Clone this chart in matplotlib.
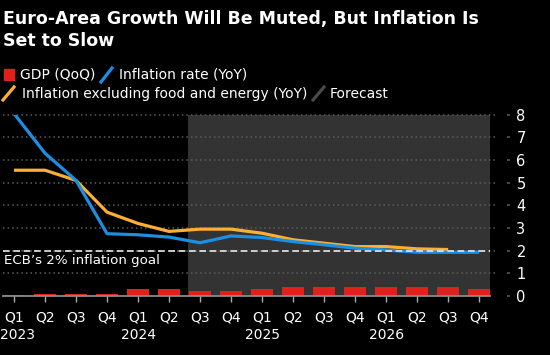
import numpy as np
import matplotlib
matplotlib.use("Agg")
import matplotlib.pyplot as plt
from matplotlib.lines import Line2D
from matplotlib.patches import Rectangle

# ---- data ----
quarters = ["Q1", "Q2", "Q3", "Q4"] * 4
years = ["2023", "2024", "2025", "2026"]
gdp = [0.05, 0.1, 0.1, 0.1, 0.3, 0.3, 0.2, 0.2, 0.3, 0.4, 0.4, 0.4, 0.4, 0.4, 0.4, 0.3]
inflation = [8.05, 6.3, 5.1, 2.75, 2.7, 2.6, 2.35, 2.65, 2.58, 2.4, 2.26, 2.11, 2.03, 1.93, 1.93, 1.93]
core = [5.55, 5.55, 5.1, 3.7, 3.2, 2.85, 2.95, 2.95, 2.77, 2.48, 2.33, 2.18, 2.18, 2.08, 2.05, np.nan]
forecast_start = 5.62
ecb_goal = 2
yticks = [0, 1, 2, 3, 4, 5, 6, 7, 8]

BG = "#000000"
RED = "#e0201b"
BLUE = "#1a8fe3"
YELLOW = "#fbb033"
SHADE = "#333333"
GRID = "#5c5c5c"

W, H = 550, 355
fig = plt.figure(figsize=(W / 100, H / 100), dpi=100, facecolor=BG)

def fx(x):
    return x / W

def fy(y):
    return 1 - y / H

ax = fig.add_axes([fx(3), fy(296), fx(490) - fx(3), fy(114.7) - fy(296)])
ax.set_facecolor(BG)
x = np.arange(len(quarters))
ax.set_xlim(-0.355, 15.35)
ax.set_ylim(0, 8)

ax.axvspan(forecast_start, 15.35, color=SHADE, zorder=0, lw=0)

# gridlines extending beyond axes
ax.hlines([v for v in yticks if v > 0], 0, 1.0144, transform=ax.get_yaxis_transform(),
          colors=GRID, linestyles=(0, (1, 2)), lw=1.1, clip_on=False, zorder=1)
ax.hlines(yticks, 1.035, 1.042, transform=ax.get_yaxis_transform(),
          colors=GRID, lw=1.1, clip_on=False, zorder=1)

ax.bar(x, gdp, width=0.7, color=RED, zorder=2)
ax.plot(x, core, color=YELLOW, lw=2.3, zorder=3, solid_capstyle="butt")
ax.plot(x, inflation, color=BLUE, lw=2.3, zorder=4, solid_capstyle="butt")
ax.axhline(ecb_goal, color="#e8e8e8", lw=1.2, ls=(0, (4, 2.2)), zorder=5)
ax.text(0.003, 1.55, "ECB\u2019s 2% inflation goal", transform=ax.get_yaxis_transform(),
        color="white", fontsize=9.6, ha="left", va="center", zorder=6)

for s in ["top", "left", "right"]:
    ax.spines[s].set_visible(False)
ax.spines["bottom"].set_color("#8a8a8a")
ax.spines["bottom"].set_linewidth(1.3)
ax.spines["bottom"].set_zorder(3)

ax.set_xticks(x)
ax.set_xticklabels(quarters, color="white", fontsize=10)
ax.tick_params(axis="x", length=4.5, width=1, color="#aaaaaa", pad=6)

# year labels below Q1 ticks
year_y = (296 - 335) / (296 - 114.7)
for i, yr in enumerate(years):
    xi = x[i * 4]
    if i == 0:
        ax.text(-0.006, year_y, yr, transform=ax.transAxes, color="white", fontsize=10,
                ha="left", va="center")
    else:
        ax.text(xi, year_y, yr, transform=ax.get_xaxis_transform(), color="white", fontsize=10,
                ha="center", va="center")

ax.yaxis.tick_right()
ax.set_yticks(yticks)
ax.set_yticklabels([str(v) for v in yticks], color="white", fontsize=10.5)
ax.tick_params(axis="y", length=0, pad=19)

# title
fig.text(fx(3), fy(10), "Euro-Area Growth Will Be Muted, But Inflation Is\nSet to Slow",
         color="white", fontsize=12.5, fontweight="bold", ha="left", va="top", linespacing=1.3)

# legend
fig.patches.append(Rectangle((fx(4), fy(80)), fx(10), fy(69) - fy(80), color=RED,
                             transform=fig.transFigure, figure=fig))
fig.text(fx(20), fy(75), "GDP (QoQ)", color="white", fontsize=10, ha="left", va="center")
fig.lines.append(Line2D([fx(101), fx(112)], [fy(82), fy(68)], color=BLUE, lw=2.3,
                        transform=fig.transFigure, figure=fig))
fig.text(fx(119), fy(75), "Inflation rate (YoY)", color="white", fontsize=10, ha="left", va="center")
fig.lines.append(Line2D([fx(3), fx(14)], [fy(100), fy(87)], color=YELLOW, lw=2.3,
                        transform=fig.transFigure, figure=fig))
fig.text(fx(22), fy(94), "Inflation excluding food and energy (YoY)", color="white", fontsize=10,
         ha="left", va="center")
fig.lines.append(Line2D([fx(313), fx(324)], [fy(100), fy(87)], color="#4a4a4a", lw=2.3,
                        transform=fig.transFigure, figure=fig))
fig.text(fx(330), fy(94), "Forecast", color="white", fontsize=10, ha="left", va="center")

fig.savefig("out.png", dpi=100, facecolor=BG)
